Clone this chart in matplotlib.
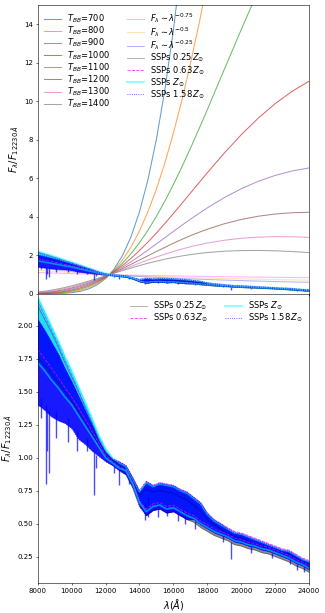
import matplotlib
matplotlib.use("Agg")
import matplotlib.pyplot as plt

# blackbody and power-law curves, normalised at 12230 A
wave_model = [8000, 8500, 9000, 9500, 10000, 10500, 11000, 11500, 12000, 12230, 12500, 13000, 13500, 14000,
              14500, 15000, 15500, 16000, 16500, 17000, 17500, 18000, 19000, 20000, 21000, 22000, 23000, 24000]
t_bb = [700, 800, 900, 1000, 1100, 1200, 1300, 1400]
bb_flux = [
    [0.0012, 0.0039, 0.0111, 0.0283, 0.0645, 0.1345, 0.259, 0.468, 0.797, 1.0, 1.289, 1.994, 2.965, 4.258,
     5.928, 8.03, 10.60, 13.69, 17.32, 21.5, 26.3, 31.7, 44.1, 58.6, 74.8, 92.5, 111.3, 130.5],
    [0.0035, 0.0097, 0.0236, 0.0517, 0.103, 0.190, 0.328, 0.535, 0.830, 1.0, 1.232, 1.761, 2.434, 3.265,
     4.267, 5.445, 6.804, 8.343, 10.056, 11.94, 13.97, 16.14, 20.85, 25.89, 31.13, 36.41, 41.6, 46.6],
    [0.0083, 0.0199, 0.0425, 0.0826, 0.148, 0.249, 0.394, 0.593, 0.856, 1.0, 1.189, 1.598, 2.087, 2.656,
     3.304, 4.027, 4.821, 5.677, 6.589, 7.547, 8.541, 9.561, 11.65, 13.72, 15.73, 17.62, 19.36, 20.90],
    [0.0166, 0.0353, 0.068, 0.1203, 0.1985, 0.3086, 0.456, 0.6446, 0.878, 1.0, 1.156, 1.479, 1.845, 2.251,
     2.692, 3.163, 3.659, 4.172, 4.698, 5.229, 5.762, 6.288, 7.310, 8.262, 9.12, 9.876, 10.515, 11.04],
    [0.0292, 0.0565, 0.0998, 0.1636, 0.252, 0.368, 0.514, 0.690, 0.896, 1.0, 1.1295, 1.389, 1.669, 1.967,
     2.277, 2.597, 2.920, 3.244, 3.562, 3.876, 4.175, 4.466, 4.998, 5.459, 5.844, 6.150, 6.382, 6.54],
    [0.0468, 0.0835, 0.137, 0.2113, 0.307, 0.4263, 0.568, 0.730, 0.911, 1.0, 1.108, 1.317, 1.535, 1.757,
     1.981, 2.203, 2.419, 2.631, 2.830, 3.020, 3.195, 3.358, 3.641, 3.865, 4.033, 4.147, 4.213, 4.237],
    [0.0698, 0.1162, 0.180, 0.2625, 0.364, 0.4826, 0.618, 0.7658, 0.924, 1.0, 1.090, 1.260, 1.4295, 1.598,
     1.761, 1.917, 2.065, 2.204, 2.329, 2.448, 2.548, 2.639, 2.786, 2.888, 2.948, 2.973, 2.967, 2.936],
    [0.0982, 0.1544, 0.227, 0.3161, 0.420, 0.5369, 0.664, 0.7979, 0.936, 1.0, 1.075, 1.212, 1.346, 1.473,
     1.592, 1.702, 1.803, 1.893, 1.972, 2.041, 2.100, 2.148, 2.217, 2.251, 2.257, 2.238, 2.200, 2.147],
]
pl_labels = [r"$F_\lambda\sim\lambda^{-0.75}$", r"$F_\lambda\sim\lambda^{-0.5}$", r"$F_\lambda\sim\lambda^{-0.25}$"]
pl_flux = [
    [1.112, 1.095, 1.080, 1.065, 1.052, 1.039, 1.027, 1.016, 1.005, 1.0, 0.995, 0.985, 0.976, 0.967,
     0.958, 0.950, 0.943, 0.935, 0.928, 0.921, 0.914, 0.908, 0.896, 0.884, 0.874, 0.864, 0.854, 0.845],
    [1.236, 1.200, 1.166, 1.135, 1.106, 1.079, 1.054, 1.031, 1.010, 1.0, 0.989, 0.970, 0.952, 0.935,
     0.918, 0.903, 0.888, 0.874, 0.861, 0.848, 0.836, 0.824, 0.802, 0.782, 0.763, 0.746, 0.729, 0.714],
    [1.375, 1.314, 1.259, 1.209, 1.163, 1.121, 1.083, 1.047, 1.014, 1.0, 0.984, 0.955, 0.929, 0.904,
     0.880, 0.858, 0.837, 0.818, 0.799, 0.781, 0.764, 0.748, 0.719, 0.692, 0.667, 0.644, 0.623, 0.603],
]

# SSP spectra: upper / lower envelope of the age spread for each metallicity
wave = [8000, 8400, 8800, 9200, 9600, 10000, 10400, 10800, 11200, 11600, 12000, 12400, 12800, 13200,
        13600, 14000, 14400, 14800, 15200, 15600, 16000, 16400, 16800, 17200, 17600, 18000, 18400,
        18800, 19200, 19600, 20000, 20400, 20800, 21200, 21600, 22000, 22400, 22800, 23200, 23600, 24000]
ssp_labels = [r"SSPs 0.25$\,Z_{\odot}$", r"SSPs 0.63$\,Z_{\odot}$", r"SSPs $Z_{\odot}$", r"SSPs 1.58$\,Z_{\odot}$"]
z025_hi = [2.15, 2.05, 1.95, 1.84, 1.72, 1.61, 1.50, 1.38, 1.26, 1.14, 1.04, 0.98, 0.95, 0.92, 0.83, 0.72, 0.76,
           0.74, 0.75, 0.74, 0.73, 0.70, 0.68, 0.64, 0.60, 0.53, 0.49, 0.46, 0.43, 0.40, 0.39, 0.37, 0.35, 0.33,
           0.32, 0.30, 0.28, 0.27, 0.24, 0.21, 0.19]
z025_lo = [1.76, 1.70, 1.63, 1.57, 1.50, 1.43, 1.35, 1.27, 1.18, 1.10, 1.01, 0.96, 0.92, 0.87, 0.77, 0.63, 0.56,
           0.60, 0.61, 0.58, 0.59, 0.56, 0.53, 0.51, 0.47, 0.44, 0.41, 0.39, 0.37, 0.34, 0.33, 0.31, 0.30, 0.28,
           0.27, 0.25, 0.23, 0.21, 0.18, 0.16, 0.13]
z063_hi = [2.19, 2.08, 1.97, 1.86, 1.74, 1.63, 1.51, 1.39, 1.27, 1.15, 1.05, 0.99, 0.97, 0.94, 0.85, 0.75, 0.82,
           0.79, 0.81, 0.80, 0.79, 0.76, 0.74, 0.70, 0.66, 0.58, 0.53, 0.50, 0.47, 0.44, 0.43, 0.41, 0.39, 0.37,
           0.35, 0.33, 0.31, 0.30, 0.27, 0.24, 0.22]
z063_lo = [1.82, 1.75, 1.68, 1.61, 1.53, 1.46, 1.38, 1.29, 1.20, 1.11, 1.02, 0.97, 0.93, 0.91, 0.81, 0.67, 0.61,
           0.65, 0.66, 0.63, 0.64, 0.61, 0.58, 0.56, 0.52, 0.49, 0.46, 0.44, 0.42, 0.39, 0.38, 0.36, 0.35, 0.33,
           0.32, 0.30, 0.28, 0.26, 0.23, 0.21, 0.18]
z100_hi = [2.22, 2.11, 2.00, 1.89, 1.77, 1.66, 1.54, 1.42, 1.30, 1.17, 1.07, 1.00, 0.96, 0.93, 0.84, 0.74, 0.81,
           0.78, 0.80, 0.79, 0.78, 0.75, 0.73, 0.69, 0.65, 0.57, 0.52, 0.49, 0.46, 0.43, 0.42, 0.40, 0.38, 0.36,
           0.34, 0.32, 0.30, 0.29, 0.26, 0.23, 0.21]
z100_lo = [1.72, 1.66, 1.59, 1.53, 1.46, 1.40, 1.32, 1.24, 1.16, 1.08, 1.00, 0.96, 0.92, 0.90, 0.80, 0.66, 0.59,
           0.63, 0.64, 0.61, 0.62, 0.59, 0.56, 0.54, 0.50, 0.47, 0.44, 0.42, 0.40, 0.37, 0.36, 0.34, 0.33, 0.31,
           0.30, 0.28, 0.26, 0.24, 0.21, 0.19, 0.16]
z158_hi = [2.05, 1.97, 1.88, 1.79, 1.68, 1.58, 1.47, 1.36, 1.25, 1.13, 1.04, 0.99, 0.97, 0.94, 0.85, 0.75, 0.82,
           0.79, 0.81, 0.80, 0.79, 0.76, 0.74, 0.70, 0.66, 0.58, 0.53, 0.50, 0.46, 0.43, 0.42, 0.40, 0.38, 0.36,
           0.34, 0.32, 0.30, 0.29, 0.26, 0.23, 0.21]
z158_lo = [1.40, 1.36, 1.31, 1.28, 1.26, 1.22, 1.14, 1.10, 1.05, 1.01, 0.97, 0.94, 0.90, 0.87, 0.77, 0.63, 0.56,
           0.60, 0.61, 0.58, 0.59, 0.56, 0.53, 0.53, 0.49, 0.46, 0.43, 0.41, 0.39, 0.36, 0.35, 0.33, 0.32, 0.30,
           0.29, 0.27, 0.25, 0.23, 0.20, 0.18, 0.15]

# absorption features reaching below the band
spike_wave = [8200, 8500, 8540, 8660, 9100, 9800, 10300, 10900, 11300, 11450, 12500, 12820, 13400, 14300,
              14500, 15100, 15600, 16300, 16700, 17300, 18900, 19420, 20600, 21800, 22900, 23300, 23700]
spike_lo = [1.30, 0.80, 1.05, 0.88, 1.15, 1.12, 1.05, 1.05, 0.72, 0.92, 0.88, 0.79, 0.80, 0.53, 0.55, 0.55,
            0.56, 0.52, 0.50, 0.46, 0.36, 0.23, 0.28, 0.24, 0.19, 0.15, 0.13]
spike_hi = [1.45, 1.40, 1.35, 1.35, 1.35, 1.30, 1.20, 1.15, 1.05, 1.02, 0.95, 0.92, 0.88, 0.66, 0.70, 0.65,
            0.65, 0.60, 0.58, 0.52, 0.42, 0.36, 0.33, 0.28, 0.24, 0.19, 0.18]


def draw_ssps(ax):
    bands = [(z025_hi, z025_lo, "black", 0.45),
             (z063_hi, z063_lo, "magenta", 0.85),
             (z100_hi, z100_lo, "cyan", 0.85),
             (z158_hi, z158_lo, "blue", 0.9)]
    for hi, lo, c, a in bands:
        ax.fill_between(wave, lo, hi, color=c, alpha=a, lw=0)
    ax.vlines(spike_wave, spike_lo, spike_hi, color="blue", lw=2, alpha=0.7)
    styles = [("black", "-", 1.2, 0.35),
              ("magenta", "--", 1.2, 0.8),
              ("cyan", "-", 2.5, 0.5),
              ("blue", ":", 1.2, 0.8)]
    handles = []
    for (hi, lo, c, a), (lc, ls, lw, la), lab in zip(bands, styles, ssp_labels):
        h, = ax.plot(wave, hi, color=lc, ls=ls, lw=lw, alpha=la, label=lab)
        ax.plot(wave, lo, color=lc, ls=ls, lw=lw, alpha=la)
        handles.append(h)
    return handles


fig, (ax1, ax2) = plt.subplots(2, 1, sharex=True, figsize=(6.5, 12.26), dpi=50)
fig.subplots_adjust(left=0.116, right=0.951, top=0.992, bottom=0.049, hspace=0)

handles = []
for i, (t, f) in enumerate(zip(t_bb, bb_flux)):
    h, = ax1.plot(wave_model, f, color="C%d" % i, lw=1.5, alpha=0.7, label=r"$T_{BB}$=%d" % t)
    handles.append(h)
for f, c, lab in zip(pl_flux, ["magenta", "orange", "blue"], pl_labels):
    h, = ax1.plot(wave_model, f, color=c, lw=1.5, alpha=0.3, label=lab)
    handles.append(h)
handles += draw_ssps(ax1)
ax1.set_ylim(0, 15)
ax1.set_yticks(range(0, 15, 2))
ax1.legend(handles=handles, loc="upper left", ncol=2, frameon=False, fontsize=12,
           labelspacing=-0.04, borderaxespad=0.35)
ax1.set_ylabel(r"$F_\lambda/F_{12230\,\AA}$", fontsize=14)

h2 = draw_ssps(ax2)
ax2.set_ylim(0.05, 2.24)
ax2.set_yticks([0.25, 0.5, 0.75, 1.0, 1.25, 1.5, 1.75, 2.0])
ax2.set_yticklabels(["0.25", "0.50", "0.75", "1.00", "1.25", "1.50", "1.75", "2.00"])
ax2.legend(handles=h2, loc="upper right", ncol=2, frameon=False, fontsize=12,
           labelspacing=-0.05, borderaxespad=0.3)
ax2.set_ylabel(r"$F_\lambda/F_{12230\,\AA}$", fontsize=14)
ax2.set_xlim(8000, 24000)
ax2.set_xticks(range(8000, 24001, 2000))
ax2.set_xlabel(r"$\lambda(\AA)$", fontsize=14)

plt.savefig("out.png", dpi=50)
